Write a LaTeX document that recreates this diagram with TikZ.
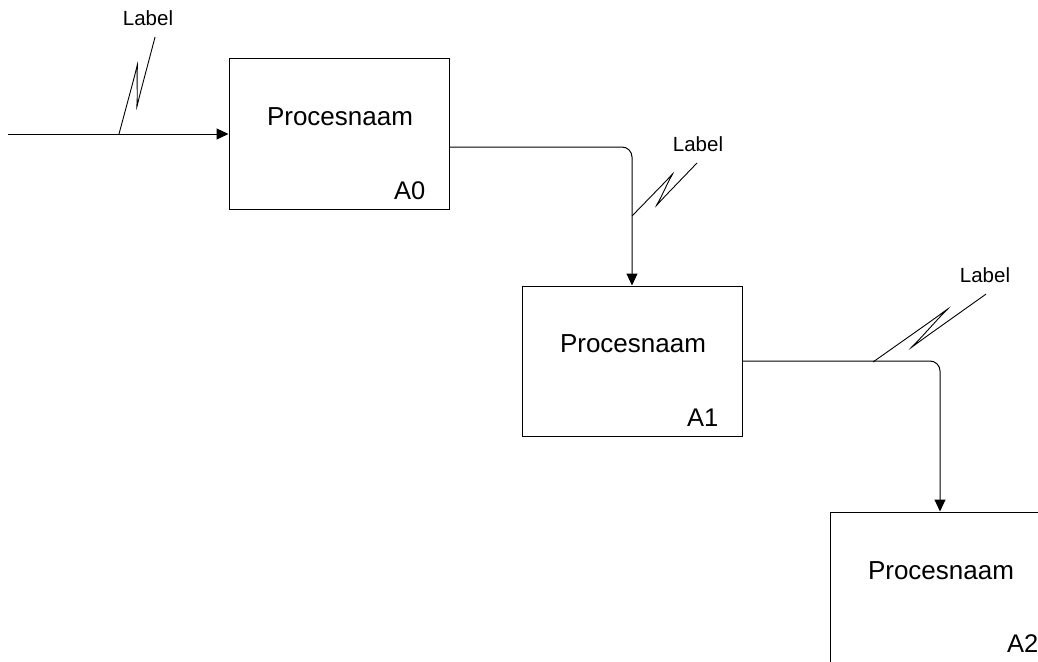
\documentclass[tikz,border=0pt]{standalone}
\usepackage{fontspec}
\setmainfont{Liberation Sans}
\usetikzlibrary{arrows.meta,calc}
\tikzset{
  procbox/.style={draw, line width=1pt, minimum width=220pt, minimum height=150pt, inner sep=0pt},
  proctext/.style={font=\fontsize{26}{30}\selectfont, inner sep=0pt},
  corner/.style={font=\fontsize{25.5}{30}\selectfont, inner sep=0pt, anchor=south east},
  lbl/.style={font=\fontsize{20.5}{24}\selectfont, inner sep=0pt},
  flow/.style={line width=1pt, rounded corners=10pt, -{Triangle[length=12pt,width=11pt]}},
  squiggle/.style={line width=0.9pt}
}
% IDEF0 label squiggle: #1 start coordinate, #2 direction angle, #3 length
\newcommand\drawsquiggle[3]{%
  \begin{scope}[shift={(#1)}, x=1pt, y=1pt, rotate=#2]
    \draw[squiggle] (0,0) -- (0.5025*#3,4.875)
      .. controls (0.7705*#3,7.475) and (0.721*#3,8.495) .. (0.585*#3,3.175)
      -- (0.415*#3,-3.475)
      .. controls (0.279*#3,-8.795) and (0.2295*#3,-7.82) .. (0.4975*#3,-5.1)
      -- (#3,0);
  \end{scope}}
\begin{document}
\begin{tikzpicture}[x=1pt, y=-1pt]
\useasboundingbox (0,0) rectangle (1038,661);
\clip (0,0) rectangle (1038,661);

% activity boxes
\node[procbox] (a0) at (339,134) {};
\node[procbox] (a1) at (632,361) {};
\node[procbox] (a2) at (940,587) {};

\node[proctext] (t0) at (340,117) {Procesnaam};
\node[proctext] (t1) at (633,344) {Procesnaam};
\node[proctext] (t2) at (941,571) {Procesnaam};

\node[corner] (n0) at ($(a0.south east)+(-24,-10)$) {A0};
\node[corner] (n1) at ($(a1.south east)+(-24,-10)$) {A1};
\node[corner] (n2) at ($(a2.south east)+(-12,-10)$) {A2};

% arrows between activities
\coordinate (in0) at (8,134);
\draw[flow] (in0) -- (a0.west);
\coordinate (out0) at ($(a0.east)+(0,13)$);
\draw[flow] (out0) -| (a1.north);
\draw[flow] (a1.east) -| (a2.north);

% arrow labels with squiggles
\node[lbl] (l0) at (148,18) {Label};
\node[lbl] (l1) at (698,144) {Label};
\node[lbl] (l2) at (985,275) {Label};

\coordinate (s0) at (119,134);
\coordinate (s1) at (632,216);
\coordinate (s2) at (873,362);
\drawsquiggle{s0}{69.6}{103.5}
\drawsquiggle{s1}{39.2}{83.9}
\drawsquiggle{s2}{31.0}{131.9}
\end{tikzpicture}
\end{document}
